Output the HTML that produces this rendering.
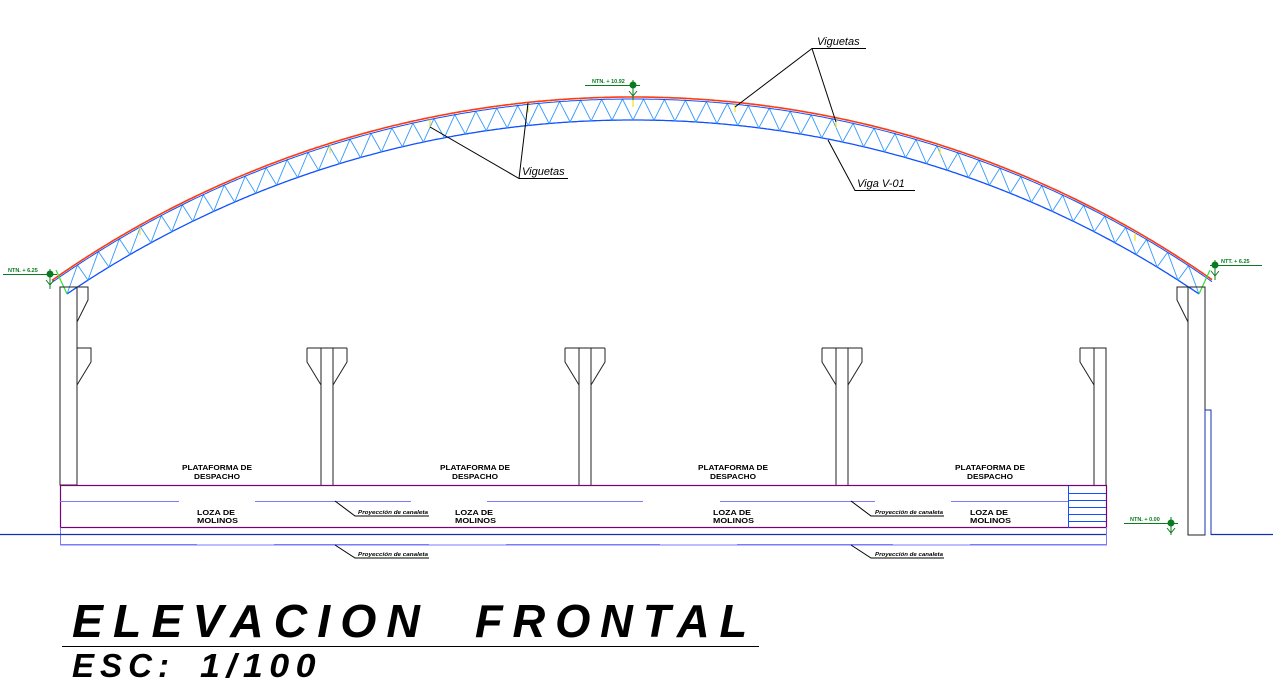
<!DOCTYPE html>
<html><head><meta charset="utf-8"><style>
html,body{margin:0;padding:0;background:#fff;}
svg{display:block;}
text{font-family:"Liberation Sans",sans-serif;}
</style></head><body>
<svg id="s" width="1273" height="689" viewBox="0 0 1273 689" xmlns="http://www.w3.org/2000/svg">
<g id="truss"></g>
<g fill="none" stroke="#222" stroke-width="1">
<rect x="60" y="287" width="17" height="198"/>
<path d="M77 287 H88 V300 L77 322"/>
<path d="M77 348 H91 V362 L77 385"/>
<rect x="1188" y="287" width="17" height="248"/>
<path d="M1188 287 H1177 V300 L1188 322"/>
<g id="cols"></g>
<path d="M1094 485 V348 M1080 348 H1106 V485 M1080 348 V362 L1094 385"/>
</g>
<path d="M1205 535 V410 H1211 V535" fill="none" stroke="#1030b0" stroke-width="1"/>
<rect x="60.5" y="485.5" width="1046" height="42" fill="none" stroke="#7a007a" stroke-width="1.2"/>
<path d="M60.5 527.5 V545 H1106.5 V527" fill="none" stroke="#7a7aff" stroke-width="1"/>
<path d="M0 534.5 H1106 M1211 534.5 H1273" stroke="#1030b0" stroke-width="1.3"/>
<g stroke="#7a7aff" stroke-width="1">
<path d="M60 501.5H179M255 501.5H411M487 501.5H643M720 501.5H875M951 501.5H1068"/>
<path d="M60 544.5H197M274 544.5H429M506 544.5H660M737 544.5H893M970 544.5H1106"/>
</g>
<g stroke="#1050ff" stroke-width="1">
<path d="M1068.5 486V528M1068 493.5H1106M1068 500.5H1106M1068 507.5H1106M1068 514.5H1106M1068 521.5H1106"/>
</g>
<g stroke="#000" stroke-width="1" fill="none">
<path d="M335 501 L355 516 H429"/><path d="M335 545 L355 558 H429"/>
<path d="M851 501 L871 516 H944"/><path d="M851 545 L871 558 H944"/>
</g>
<g font-size="5" font-style="italic" font-weight="bold">
<text x="358" y="514" textLength="70" lengthAdjust="spacingAndGlyphs">Proyección de canaleta</text>
<text x="358" y="556" textLength="70" lengthAdjust="spacingAndGlyphs">Proyección de canaleta</text>
<text x="875" y="514" textLength="68" lengthAdjust="spacingAndGlyphs">Proyección de canaleta</text>
<text x="875" y="556" textLength="68" lengthAdjust="spacingAndGlyphs">Proyección de canaleta</text>
</g>
<g id="labels" font-size="7" font-weight="bold" font-family="Liberation Serif"></g>
<g stroke="#000" stroke-width="1" fill="none">
<path d="M866 48.5 H812 L735 107 M812 48.5 L836 122"/>
<path d="M568 178.5 H519 L430 127 M519 178.5 L528 103"/>
<path d="M915 190.5 H855 L828 140"/>
</g>
<g font-size="11" font-style="italic" font-family="Liberation Sans">
<text x="817" y="45">Viguetas</text>
<text x="522" y="175">Viguetas</text>
<text x="857" y="187">Viga V-01</text>
</g>
<g stroke="#0a7a20" fill="#0a7a20" stroke-width="1" font-size="5.5" font-weight="bold">
<path d="M3 274.5 H57 M50 269 V289 M46 280 L50 285 L54 280" fill="none"/><circle cx="50" cy="274" r="3"/>
<text x="8" y="272" stroke="none">NTN. + 6.25</text>
<path d="M585 85.5 H640 M633 80 V100 M629 91 L633 96 L637 91" fill="none"/><circle cx="633" cy="85" r="3"/>
<text x="592" y="83" stroke="none">NTN. + 10.92</text>
<path d="M1210 265.5 H1262 M1215 260 V280 M1211 271 L1215 276 L1219 271" fill="none"/><circle cx="1215" cy="265" r="3"/>
<text x="1221" y="263" stroke="none">NTT. + 6.25</text>
<path d="M1124 523.5 H1178 M1171 517 V535 M1167 528 L1171 533 L1175 528" fill="none"/><circle cx="1171" cy="523" r="3"/>
<text x="1130" y="521" stroke="none">NTN. + 0.00</text>
</g>
<g font-weight="bold" font-style="italic">
<text x="72" y="637" font-size="46" letter-spacing="10" textLength="358" lengthAdjust="spacingAndGlyphs">ELEVACION</text>
<text x="475" y="637" font-size="46" letter-spacing="10" textLength="282" lengthAdjust="spacingAndGlyphs">FRONTAL</text>
<text x="72" y="677" font-size="33" letter-spacing="6" textLength="103" lengthAdjust="spacingAndGlyphs">ESC:</text>
<text x="200" y="677" font-size="33" letter-spacing="6" textLength="122" lengthAdjust="spacingAndGlyphs">1/100</text>
</g>
<path d="M62 646.5 H759" stroke="#000" stroke-width="1"/>
</svg>
<script>
(function(){
var NS="http://www.w3.org/2000/svg";
function el(p,t,a){var e=document.createElementNS(NS,t);for(var k in a)e.setAttribute(k,a[k]);p.appendChild(e);return e;}
var tr=document.getElementById('truss');
var Rt=1010.6,cxt=632.5,yt=97;
var Rb=1007.6,cxb=633,yb=120;
function fTop(x){var d=x-cxt;return yt+Rt-Math.sqrt(Rt*Rt-d*d);}
function fBot(x){var d=x-cxb;return yb+Rb-Math.sqrt(Rb*Rb-d*d);}
function poly(f,a,b,off){var s="";for(var x=a;x<=b;x+=2){s+=(s?"L":"M")+x+" "+(f(x)+off).toFixed(1);}return s;}
el(tr,'path',{d:poly(fBot,67,1199,0),stroke:'#1050ff','stroke-width':1.3,fill:'none'});
var w="";var n=54;var a=67,b=1199;
for(var i=0;i<n;i++){var xb=a+(b-a)*i/n;var xt=xb+(b-a)/n/2;var xb2=a+(b-a)*(i+1)/n;
 w+="M"+xb.toFixed(1)+" "+fBot(xb).toFixed(1)+"L"+xt.toFixed(1)+" "+(fTop(xt)+2).toFixed(1)+"L"+xb2.toFixed(1)+" "+fBot(xb2).toFixed(1);}
el(tr,'path',{d:w,stroke:'#3399ff','stroke-width':0.9,fill:'none'});
el(tr,'path',{d:poly(fTop,52,1213,2),stroke:'#1050ff','stroke-width':1,fill:'none'});
el(tr,'path',{d:poly(fTop,52,1213,0),stroke:'#ff3a10','stroke-width':1.6,fill:'none'});
el(tr,'path',{d:"M56 270 L67 294 M1210 270 L1199 294",stroke:'#30e030','stroke-width':1.2,fill:'none'});
[140,330,430,528,633,735,836,940,1135].forEach(function(x){el(tr,'path',{d:"M"+x+" "+(fTop(x)+2).toFixed(1)+"V"+(fTop(x)+10).toFixed(1),stroke:'#f0e020','stroke-width':1.2});});
var cg=document.getElementById('cols');
[327,585,842].forEach(function(c){
 el(cg,'path',{d:"M"+(c-6)+" 485V348M"+(c+6)+" 485V348M"+(c-20)+" 348H"+(c+20)+"M"+(c-20)+" 348V362L"+(c-6)+" 385M"+(c+20)+" 348V362L"+(c+6)+" 385"});
});
var lg=document.getElementById('labels');
[217,475,733,990].forEach(function(c){
 el(lg,'text',{x:c-35,y:470,textLength:70,lengthAdjust:'spacingAndGlyphs'}).textContent="PLATAFORMA DE";
 el(lg,'text',{x:c-23,y:479,textLength:46,lengthAdjust:'spacingAndGlyphs'}).textContent="DESPACHO";
 el(lg,'text',{x:c-20,y:515,textLength:38,lengthAdjust:'spacingAndGlyphs'}).textContent="LOZA DE";
 el(lg,'text',{x:c-20,y:523,textLength:41,lengthAdjust:'spacingAndGlyphs'}).textContent="MOLINOS";
});
})();
</script>
</body></html>
